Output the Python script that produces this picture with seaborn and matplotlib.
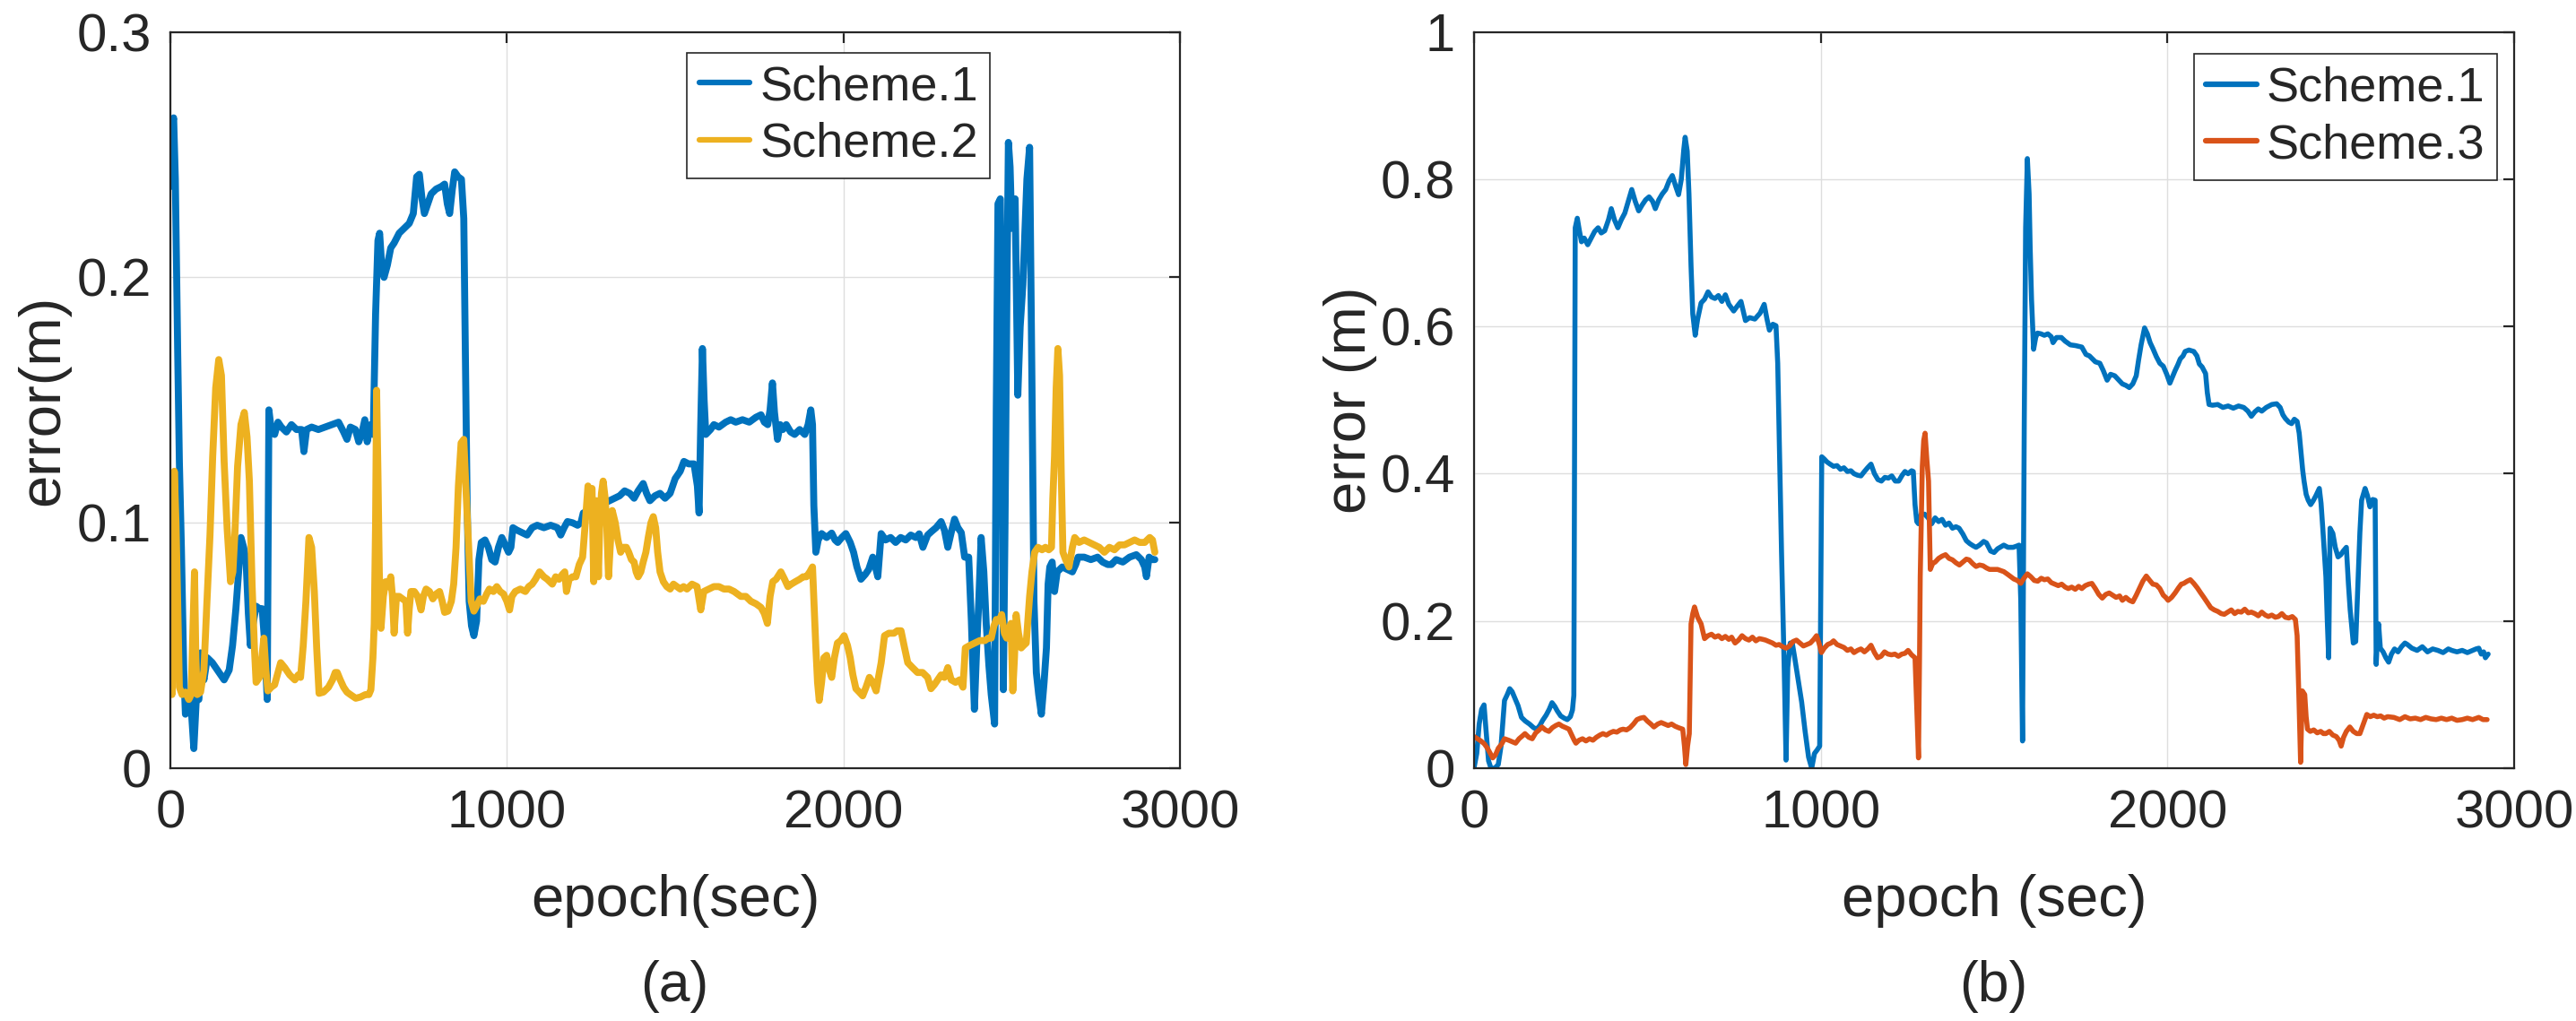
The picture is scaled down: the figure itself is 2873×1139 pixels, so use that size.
import pandas as pd
import seaborn as sns
import matplotlib.pyplot as plt

# (epoch, error) pairs
scheme1_a = [
    (0, 0.237), (5, 0.262), (10, 0.265), (15, 0.24), (22, 0.17), (27, 0.125), (33, 0.09),
    (40, 0.04), (45, 0.022), (55, 0.03), (62, 0.025), (70, 0.008), (78, 0.03), (85, 0.028),
    (90, 0.047), (100, 0.036), (110, 0.045), (125, 0.043), (140, 0.04), (160, 0.036),
    (175, 0.04), (185, 0.05), (195, 0.065), (203, 0.08), (210, 0.094), (218, 0.09),
    (225, 0.085), (232, 0.063), (238, 0.05), (245, 0.058), (255, 0.066), (265, 0.065),
    (273, 0.065), (280, 0.052), (288, 0.028), (293, 0.146), (300, 0.138), (310, 0.136),
    (320, 0.141), (330, 0.139), (345, 0.137), (360, 0.14), (375, 0.138), (390, 0.138),
    (397, 0.129), (405, 0.138), (420, 0.139), (440, 0.138), (460, 0.139), (480, 0.14),
    (500, 0.141), (515, 0.137), (525, 0.134), (535, 0.139), (550, 0.138), (560, 0.133),
    (570, 0.137), (578, 0.142), (585, 0.133), (595, 0.14), (603, 0.136), (610, 0.185),
    (617, 0.215), (622, 0.218), (628, 0.205), (635, 0.2), (645, 0.205), (655, 0.212),
    (665, 0.214), (680, 0.218), (695, 0.22), (710, 0.222), (722, 0.226), (732, 0.241),
    (740, 0.242), (748, 0.232), (755, 0.226), (765, 0.23), (775, 0.234), (790, 0.236),
    (805, 0.237), (815, 0.238), (823, 0.23), (830, 0.226), (838, 0.236), (845, 0.243),
    (855, 0.241), (865, 0.24), (872, 0.224), (877, 0.166), (882, 0.107), (888, 0.068),
    (895, 0.058), (902, 0.054), (910, 0.06), (917, 0.085), (924, 0.092), (935, 0.093),
    (945, 0.09), (955, 0.085), (965, 0.084), (975, 0.09), (985, 0.094), (995, 0.091),
    (1005, 0.088), (1012, 0.09), (1018, 0.098), (1030, 0.097), (1045, 0.096), (1060, 0.095),
    (1075, 0.098), (1090, 0.099), (1110, 0.098), (1130, 0.099), (1150, 0.098), (1160, 0.095),
    (1170, 0.098), (1180, 0.1005), (1195, 0.1), (1210, 0.099), (1220, 0.1), (1227, 0.104),
    (1245, 0.105), (1265, 0.106), (1275, 0.107), (1290, 0.108), (1305, 0.109), (1320, 0.11),
    (1335, 0.111), (1350, 0.113), (1365, 0.112), (1378, 0.11), (1390, 0.113), (1405, 0.116),
    (1415, 0.112), (1425, 0.109), (1440, 0.111), (1455, 0.112), (1470, 0.11), (1485, 0.112),
    (1500, 0.118), (1515, 0.121), (1526, 0.125), (1540, 0.124), (1556, 0.124), (1566, 0.115),
    (1571, 0.104), (1576, 0.14), (1581, 0.171), (1586, 0.15), (1591, 0.136), (1605, 0.138),
    (1615, 0.14), (1630, 0.139), (1650, 0.141), (1665, 0.142), (1680, 0.141), (1700, 0.142),
    (1720, 0.141), (1740, 0.143), (1755, 0.144), (1765, 0.141), (1775, 0.14), (1782, 0.146),
    (1789, 0.157), (1795, 0.145), (1804, 0.134), (1812, 0.14), (1820, 0.138), (1830, 0.14),
    (1843, 0.137), (1855, 0.136), (1870, 0.138), (1885, 0.136), (1895, 0.14), (1903, 0.146),
    (1908, 0.14), (1912, 0.107), (1918, 0.088), (1925, 0.093), (1935, 0.0956), (1950, 0.094),
    (1965, 0.0958), (1975, 0.093), (1983, 0.092), (1995, 0.094), (2007, 0.0956), (2020, 0.092),
    (2030, 0.088), (2040, 0.082), (2052, 0.077), (2065, 0.079), (2075, 0.081), (2087, 0.086),
    (2095, 0.082), (2102, 0.078), (2112, 0.0956), (2125, 0.093), (2140, 0.094), (2155, 0.092),
    (2170, 0.094), (2185, 0.093), (2200, 0.095), (2215, 0.094), (2225, 0.0955), (2236, 0.09),
    (2250, 0.095), (2262, 0.0965), (2275, 0.098), (2290, 0.1005), (2300, 0.097), (2310, 0.09),
    (2320, 0.096), (2330, 0.1015), (2340, 0.098), (2350, 0.096), (2360, 0.086), (2372, 0.086),
    (2380, 0.06), (2384, 0.043), (2389, 0.024), (2396, 0.05), (2402, 0.068), (2409, 0.094),
    (2417, 0.08), (2424, 0.059), (2432, 0.042), (2439, 0.03), (2449, 0.018), (2454, 0.146),
    (2459, 0.23), (2466, 0.232), (2471, 0.16), (2475, 0.032), (2480, 0.1), (2486, 0.2),
    (2490, 0.255), (2495, 0.245), (2500, 0.22), (2510, 0.232), (2518, 0.152), (2525, 0.18),
    (2533, 0.197), (2545, 0.24), (2553, 0.253), (2560, 0.156), (2566, 0.068), (2573, 0.039),
    (2580, 0.03), (2588, 0.022), (2596, 0.035), (2603, 0.049), (2608, 0.075), (2613, 0.082),
    (2620, 0.084), (2627, 0.072), (2635, 0.08), (2650, 0.082), (2665, 0.081), (2680, 0.08),
    (2690, 0.083), (2697, 0.086), (2715, 0.086), (2735, 0.085), (2755, 0.086), (2770, 0.084),
    (2785, 0.083), (2796, 0.083), (2810, 0.085), (2830, 0.084), (2850, 0.086), (2870, 0.087),
    (2885, 0.085), (2895, 0.082), (2900, 0.078), (2908, 0.086), (2918, 0.085), (2925, 0.085),
]

scheme2_a = [
    (0, 0.088), (3, 0.04), (5, 0.03), (8, 0.06), (12, 0.121), (17, 0.1), (22, 0.068),
    (27, 0.033), (35, 0.03), (45, 0.031), (55, 0.028), (62, 0.03), (68, 0.06), (72, 0.08),
    (76, 0.045), (80, 0.03), (90, 0.031), (100, 0.04), (109, 0.068), (118, 0.095),
    (126, 0.127), (135, 0.155), (144, 0.1665), (152, 0.16), (160, 0.125), (169, 0.0976),
    (179, 0.076), (186, 0.08), (192, 0.0956), (200, 0.123), (210, 0.14), (220, 0.145),
    (228, 0.135), (235, 0.117), (243, 0.075), (250, 0.049), (255, 0.035), (265, 0.037),
    (272, 0.045), (278, 0.053), (284, 0.04), (290, 0.0315), (300, 0.033), (310, 0.034),
    (318, 0.038), (328, 0.043), (340, 0.041), (355, 0.038), (370, 0.036), (380, 0.038),
    (387, 0.037), (395, 0.05), (403, 0.068), (412, 0.094), (420, 0.09), (428, 0.072),
    (435, 0.049), (442, 0.0305), (455, 0.031), (470, 0.033), (482, 0.036), (490, 0.039),
    (496, 0.039), (505, 0.036), (515, 0.033), (525, 0.031), (535, 0.03), (551, 0.0285),
    (565, 0.029), (580, 0.03), (590, 0.03), (596, 0.032), (602, 0.045), (606, 0.059),
    (610, 0.1), (613, 0.154), (617, 0.12), (621, 0.08), (626, 0.057), (633, 0.07),
    (640, 0.076), (648, 0.074), (655, 0.078), (660, 0.07), (665, 0.055), (672, 0.07),
    (680, 0.07), (690, 0.069), (700, 0.068), (705, 0.055), (710, 0.065), (715, 0.072),
    (725, 0.072), (735, 0.07), (745, 0.0645), (752, 0.07), (760, 0.073), (770, 0.072),
    (780, 0.069), (790, 0.071), (800, 0.072), (808, 0.068), (815, 0.0635), (825, 0.064),
    (835, 0.068), (842, 0.075), (849, 0.09), (856, 0.115), (864, 0.1325), (872, 0.134),
    (878, 0.115), (884, 0.0976), (890, 0.08), (894, 0.068), (902, 0.064), (910, 0.066),
    (920, 0.069), (930, 0.068), (940, 0.071), (948, 0.073), (960, 0.072), (970, 0.074),
    (980, 0.072), (990, 0.071), (1000, 0.068), (1008, 0.0645), (1015, 0.07), (1025, 0.072),
    (1040, 0.073), (1055, 0.072), (1065, 0.074), (1075, 0.075), (1085, 0.077), (1097, 0.08),
    (1110, 0.078), (1120, 0.077), (1135, 0.075), (1145, 0.078), (1155, 0.077), (1165, 0.079),
    (1172, 0.08), (1177, 0.072), (1185, 0.077), (1195, 0.078), (1205, 0.078), (1215, 0.083),
    (1225, 0.086), (1233, 0.1), (1241, 0.115), (1248, 0.11), (1253, 0.114), (1258, 0.076),
    (1262, 0.095), (1266, 0.109), (1272, 0.078), (1276, 0.1), (1281, 0.112), (1286, 0.117),
    (1292, 0.11), (1297, 0.098), (1302, 0.078), (1307, 0.09), (1313, 0.105), (1322, 0.1),
    (1330, 0.093), (1338, 0.088), (1345, 0.09), (1355, 0.09), (1362, 0.088), (1370, 0.085),
    (1378, 0.084), (1384, 0.08), (1390, 0.078), (1398, 0.08), (1405, 0.084), (1413, 0.088),
    (1420, 0.094), (1428, 0.1), (1435, 0.1025), (1442, 0.098), (1448, 0.088), (1455, 0.08),
    (1465, 0.076), (1475, 0.074), (1485, 0.073), (1495, 0.075), (1505, 0.074), (1515, 0.073),
    (1525, 0.074), (1535, 0.073), (1550, 0.075), (1565, 0.074), (1576, 0.0645), (1585, 0.072),
    (1600, 0.073), (1615, 0.074), (1630, 0.074), (1645, 0.073), (1660, 0.073), (1675, 0.072),
    (1695, 0.07), (1710, 0.07), (1725, 0.068), (1740, 0.067), (1755, 0.0655), (1765, 0.063),
    (1774, 0.059), (1782, 0.07), (1790, 0.076), (1800, 0.077), (1814, 0.08), (1825, 0.077),
    (1835, 0.074), (1845, 0.075), (1857, 0.076), (1870, 0.077), (1880, 0.078), (1890, 0.078),
    (1900, 0.08), (1908, 0.082), (1913, 0.065), (1918, 0.049), (1923, 0.035), (1928, 0.0276),
    (1935, 0.035), (1942, 0.045), (1950, 0.046), (1958, 0.04), (1965, 0.037), (1973, 0.045),
    (1982, 0.051), (1992, 0.052), (2002, 0.054), (2012, 0.05), (2020, 0.045), (2028, 0.038),
    (2037, 0.0324), (2047, 0.031), (2057, 0.0295), (2067, 0.033), (2077, 0.037), (2087, 0.035),
    (2097, 0.0315), (2104, 0.037), (2112, 0.043), (2122, 0.054), (2135, 0.055), (2150, 0.055),
    (2160, 0.056), (2171, 0.056), (2180, 0.05), (2191, 0.043), (2205, 0.041), (2220, 0.039),
    (2235, 0.039), (2250, 0.037), (2260, 0.0324), (2270, 0.034), (2280, 0.036), (2290, 0.038),
    (2300, 0.037), (2310, 0.041), (2320, 0.036), (2333, 0.035), (2345, 0.036), (2355, 0.033),
    (2362, 0.049), (2375, 0.05), (2390, 0.051), (2405, 0.052), (2420, 0.052), (2430, 0.053),
    (2439, 0.053), (2447, 0.058), (2454, 0.0606), (2463, 0.06), (2470, 0.0626), (2478, 0.055),
    (2485, 0.053), (2492, 0.057), (2498, 0.059), (2503, 0.0315), (2508, 0.045), (2513, 0.0626),
    (2520, 0.055), (2528, 0.049), (2535, 0.05), (2543, 0.051), (2553, 0.07), (2560, 0.08),
    (2568, 0.088), (2578, 0.09), (2590, 0.089), (2600, 0.09), (2610, 0.089), (2618, 0.09),
    (2622, 0.11), (2627, 0.127), (2632, 0.155), (2637, 0.171), (2642, 0.16), (2647, 0.12),
    (2652, 0.088), (2660, 0.085), (2670, 0.082), (2680, 0.09), (2687, 0.094), (2700, 0.092),
    (2715, 0.093), (2730, 0.092), (2745, 0.091), (2760, 0.09), (2775, 0.088), (2790, 0.09),
    (2805, 0.089), (2820, 0.091), (2835, 0.091), (2850, 0.092), (2865, 0.093), (2880, 0.092),
    (2895, 0.092), (2910, 0.094), (2918, 0.093), (2925, 0.088),
]

scheme1_b = [
    (0, 0.0), (8, 0.02), (15, 0.06), (22, 0.08), (29, 0.086), (35, 0.05), (42, 0.01),
    (49, 0.0), (60, 0.0), (70, 0.005), (78, 0.03), (88, 0.092), (96, 0.1), (103, 0.108),
    (110, 0.104), (118, 0.095), (127, 0.085), (137, 0.069), (148, 0.064), (160, 0.06),
    (172, 0.055), (181, 0.053), (190, 0.058), (198, 0.065), (208, 0.072), (217, 0.08),
    (225, 0.089), (233, 0.084), (240, 0.078), (250, 0.071), (260, 0.068), (269, 0.066),
    (278, 0.07), (284, 0.079), (288, 0.099), (292, 0.734), (298, 0.747), (304, 0.73),
    (310, 0.715), (318, 0.72), (328, 0.711), (338, 0.72), (348, 0.729), (358, 0.734),
    (367, 0.727), (377, 0.73), (388, 0.745), (396, 0.76), (405, 0.745), (415, 0.734),
    (425, 0.745), (435, 0.754), (445, 0.77), (455, 0.786), (465, 0.77), (475, 0.757),
    (485, 0.765), (495, 0.772), (505, 0.776), (515, 0.77), (523, 0.76), (533, 0.772),
    (543, 0.78), (553, 0.786), (563, 0.798), (572, 0.805), (582, 0.79), (590, 0.779),
    (598, 0.8), (605, 0.84), (609, 0.857), (615, 0.838), (620, 0.78), (626, 0.682),
    (631, 0.617), (638, 0.588), (645, 0.61), (655, 0.632), (665, 0.637), (675, 0.647),
    (685, 0.64), (695, 0.638), (705, 0.642), (715, 0.634), (725, 0.643), (735, 0.63),
    (749, 0.621), (760, 0.628), (770, 0.634), (783, 0.608), (795, 0.612), (810, 0.61),
    (825, 0.618), (837, 0.63), (845, 0.61), (852, 0.595), (862, 0.603), (871, 0.601),
    (876, 0.55), (880, 0.455), (887, 0.293), (895, 0.131), (900, 0.011), (905, 0.137),
    (912, 0.17), (918, 0.17), (925, 0.15), (935, 0.12), (945, 0.09), (955, 0.05),
    (965, 0.015), (974, 0.0), (982, 0.02), (990, 0.025), (997, 0.03), (1003, 0.423),
    (1010, 0.42), (1018, 0.416), (1027, 0.413), (1037, 0.41), (1047, 0.411), (1057, 0.406),
    (1067, 0.408), (1077, 0.403), (1087, 0.404), (1096, 0.4), (1106, 0.398), (1116, 0.397),
    (1126, 0.403), (1135, 0.408), (1145, 0.413), (1155, 0.4), (1165, 0.392), (1175, 0.39),
    (1185, 0.395), (1195, 0.394), (1205, 0.397), (1215, 0.39), (1225, 0.39), (1235, 0.398),
    (1243, 0.403), (1252, 0.4), (1262, 0.404), (1267, 0.403), (1272, 0.358), (1277, 0.335),
    (1282, 0.332), (1290, 0.345), (1300, 0.345), (1310, 0.34), (1320, 0.332), (1330, 0.34),
    (1340, 0.335), (1350, 0.338), (1360, 0.33), (1370, 0.333), (1380, 0.326), (1390, 0.328),
    (1399, 0.326), (1410, 0.318), (1420, 0.309), (1430, 0.305), (1440, 0.302), (1448, 0.3),
    (1458, 0.303), (1470, 0.308), (1478, 0.306), (1490, 0.295), (1500, 0.293), (1510, 0.298),
    (1528, 0.303), (1540, 0.3), (1555, 0.3), (1567, 0.302), (1572, 0.303), (1577, 0.228),
    (1582, 0.037), (1587, 0.468), (1591, 0.734), (1596, 0.828), (1601, 0.78), (1604, 0.708),
    (1608, 0.637), (1614, 0.569), (1620, 0.585), (1625, 0.591), (1635, 0.59), (1645, 0.588),
    (1655, 0.59), (1665, 0.586), (1670, 0.578), (1680, 0.585), (1694, 0.585), (1705, 0.58),
    (1720, 0.575), (1735, 0.574), (1753, 0.572), (1765, 0.562), (1775, 0.56), (1792, 0.552),
    (1805, 0.55), (1815, 0.54), (1826, 0.527), (1836, 0.535), (1848, 0.533), (1860, 0.527),
    (1870, 0.522), (1880, 0.52), (1890, 0.517), (1900, 0.522), (1910, 0.533), (1917, 0.555),
    (1924, 0.575), (1934, 0.598), (1942, 0.59), (1950, 0.578), (1958, 0.57), (1968, 0.559),
    (1978, 0.55), (1988, 0.546), (1998, 0.535), (2007, 0.523), (2015, 0.532), (2022, 0.54),
    (2030, 0.548), (2037, 0.556), (2045, 0.56), (2051, 0.566), (2062, 0.568), (2076, 0.566),
    (2085, 0.56), (2092, 0.549), (2100, 0.545), (2110, 0.536), (2115, 0.51), (2120, 0.494),
    (2130, 0.493), (2145, 0.494), (2160, 0.49), (2175, 0.492), (2190, 0.489), (2205, 0.492),
    (2220, 0.49), (2232, 0.485), (2242, 0.478), (2252, 0.484), (2262, 0.488), (2272, 0.485),
    (2285, 0.49), (2301, 0.494), (2315, 0.495), (2325, 0.49), (2333, 0.48), (2340, 0.475),
    (2350, 0.47), (2358, 0.468), (2366, 0.474), (2374, 0.471), (2380, 0.455), (2385, 0.43),
    (2390, 0.405), (2394, 0.39), (2400, 0.372), (2406, 0.364), (2413, 0.358), (2420, 0.363),
    (2428, 0.37), (2438, 0.38), (2443, 0.36), (2448, 0.326), (2453, 0.29), (2457, 0.26),
    (2461, 0.2), (2465, 0.15), (2469, 0.326), (2477, 0.319), (2484, 0.3), (2492, 0.287),
    (2500, 0.29), (2507, 0.295), (2516, 0.3), (2522, 0.25), (2527, 0.215), (2536, 0.17),
    (2543, 0.172), (2550, 0.26), (2555, 0.32), (2560, 0.364), (2570, 0.38), (2577, 0.37),
    (2584, 0.355), (2592, 0.365), (2599, 0.364), (2602, 0.141), (2606, 0.18), (2609, 0.196),
    (2614, 0.163), (2622, 0.158), (2630, 0.15), (2638, 0.144), (2646, 0.155), (2655, 0.162),
    (2665, 0.158), (2675, 0.165), (2685, 0.17), (2692, 0.168), (2705, 0.163), (2720, 0.16),
    (2735, 0.165), (2750, 0.158), (2765, 0.162), (2780, 0.16), (2795, 0.157), (2810, 0.162),
    (2820, 0.16), (2835, 0.158), (2850, 0.16), (2865, 0.157), (2880, 0.16), (2890, 0.162),
    (2898, 0.163), (2905, 0.155), (2912, 0.158), (2917, 0.15), (2925, 0.155),
]

scheme3_b = [
    (0, 0.043), (10, 0.04), (20, 0.037), (30, 0.033), (39, 0.027), (47, 0.02), (54, 0.014),
    (62, 0.018), (70, 0.027), (80, 0.033), (88, 0.04), (100, 0.038), (110, 0.036),
    (120, 0.034), (130, 0.04), (140, 0.044), (147, 0.047), (158, 0.042), (168, 0.04),
    (178, 0.048), (188, 0.052), (196, 0.056), (206, 0.052), (216, 0.05), (226, 0.055),
    (236, 0.058), (245, 0.06), (255, 0.057), (265, 0.055), (274, 0.053), (282, 0.045),
    (289, 0.038), (294, 0.034), (303, 0.038), (313, 0.04), (323, 0.037), (333, 0.04),
    (343, 0.038), (353, 0.042), (363, 0.045), (372, 0.047), (382, 0.045), (392, 0.048),
    (402, 0.05), (412, 0.049), (422, 0.052), (430, 0.053), (440, 0.052), (450, 0.055),
    (460, 0.06), (470, 0.066), (480, 0.068), (490, 0.069), (500, 0.064), (510, 0.06),
    (519, 0.056), (530, 0.06), (540, 0.062), (550, 0.06), (560, 0.058), (570, 0.06),
    (580, 0.057), (590, 0.055), (602, 0.053), (607, 0.03), (611, 0.005), (616, 0.03),
    (621, 0.047), (626, 0.196), (631, 0.21), (636, 0.219), (645, 0.205), (655, 0.196),
    (665, 0.176), (675, 0.18), (685, 0.182), (695, 0.178), (705, 0.18), (715, 0.176),
    (725, 0.179), (735, 0.175), (743, 0.178), (753, 0.17), (763, 0.174), (773, 0.18),
    (783, 0.176), (793, 0.174), (803, 0.178), (813, 0.173), (823, 0.176), (833, 0.175),
    (841, 0.174), (851, 0.172), (861, 0.17), (871, 0.167), (880, 0.168), (890, 0.165),
    (900, 0.163), (910, 0.166), (920, 0.172), (930, 0.174), (940, 0.17), (950, 0.166),
    (960, 0.168), (970, 0.17), (980, 0.175), (988, 0.18), (995, 0.17), (1002, 0.157),
    (1010, 0.163), (1020, 0.168), (1030, 0.17), (1037, 0.173), (1047, 0.168), (1057, 0.166),
    (1067, 0.164), (1077, 0.16), (1087, 0.162), (1096, 0.157), (1106, 0.16), (1116, 0.162),
    (1126, 0.158), (1136, 0.162), (1145, 0.167), (1155, 0.157), (1164, 0.15), (1174, 0.152),
    (1184, 0.158), (1194, 0.155), (1204, 0.154), (1214, 0.155), (1224, 0.152), (1234, 0.155),
    (1243, 0.156), (1252, 0.16), (1262, 0.154), (1272, 0.15), (1277, 0.08), (1282, 0.014),
    (1285, 0.15), (1287, 0.26), (1293, 0.41), (1297, 0.445), (1301, 0.455), (1306, 0.42),
    (1311, 0.39), (1316, 0.27), (1323, 0.278), (1330, 0.28), (1340, 0.285), (1350, 0.288),
    (1360, 0.29), (1370, 0.285), (1380, 0.283), (1390, 0.279), (1400, 0.276), (1410, 0.28),
    (1420, 0.284), (1428, 0.283), (1438, 0.278), (1448, 0.274), (1458, 0.276), (1468, 0.275),
    (1478, 0.272), (1487, 0.27), (1499, 0.27), (1510, 0.27), (1528, 0.267), (1540, 0.263),
    (1557, 0.257), (1567, 0.255), (1577, 0.251), (1586, 0.258), (1596, 0.264), (1606, 0.26),
    (1616, 0.255), (1626, 0.254), (1636, 0.258), (1645, 0.256), (1655, 0.257), (1665, 0.252),
    (1675, 0.25), (1685, 0.248), (1695, 0.25), (1705, 0.246), (1714, 0.244), (1724, 0.246),
    (1734, 0.243), (1744, 0.247), (1753, 0.244), (1763, 0.248), (1773, 0.25), (1782, 0.251),
    (1792, 0.244), (1802, 0.236), (1812, 0.231), (1822, 0.236), (1832, 0.238), (1842, 0.235),
    (1852, 0.232), (1862, 0.234), (1870, 0.228), (1880, 0.232), (1890, 0.228), (1900, 0.226),
    (1910, 0.235), (1919, 0.244), (1929, 0.254), (1939, 0.261), (1949, 0.255), (1958, 0.25),
    (1968, 0.249), (1978, 0.244), (1988, 0.235), (1995, 0.232), (2002, 0.228), (2012, 0.232),
    (2022, 0.238), (2032, 0.245), (2040, 0.25), (2047, 0.251), (2057, 0.254), (2066, 0.256),
    (2076, 0.251), (2086, 0.245), (2096, 0.238), (2105, 0.232), (2115, 0.225), (2125, 0.218),
    (2135, 0.215), (2145, 0.213), (2155, 0.21), (2164, 0.209), (2174, 0.212), (2184, 0.215),
    (2194, 0.21), (2203, 0.213), (2213, 0.212), (2223, 0.216), (2233, 0.211), (2242, 0.212),
    (2252, 0.21), (2262, 0.207), (2272, 0.212), (2282, 0.208), (2291, 0.206), (2301, 0.208),
    (2311, 0.205), (2320, 0.206), (2330, 0.21), (2340, 0.205), (2350, 0.204), (2360, 0.206),
    (2369, 0.202), (2374, 0.18), (2379, 0.099), (2384, 0.008), (2389, 0.105), (2396, 0.1),
    (2400, 0.07), (2404, 0.053), (2412, 0.05), (2422, 0.052), (2432, 0.048), (2442, 0.05),
    (2450, 0.047), (2457, 0.047), (2467, 0.05), (2477, 0.045), (2487, 0.043), (2495, 0.038),
    (2501, 0.03), (2508, 0.042), (2516, 0.05), (2526, 0.056), (2536, 0.05), (2546, 0.047),
    (2555, 0.047), (2565, 0.06), (2575, 0.073), (2585, 0.07), (2595, 0.072), (2605, 0.07),
    (2615, 0.071), (2625, 0.068), (2635, 0.07), (2653, 0.069), (2670, 0.066), (2685, 0.07),
    (2700, 0.067), (2715, 0.068), (2730, 0.066), (2745, 0.069), (2760, 0.067), (2775, 0.066),
    (2790, 0.068), (2805, 0.066), (2820, 0.068), (2835, 0.065), (2850, 0.066), (2865, 0.068),
    (2880, 0.066), (2898, 0.069), (2910, 0.066), (2922, 0.066),
]

x_ticks = [0, 1000, 2000, 3000]
y_ticks_a = [0, 0.1, 0.2, 0.3]
y_labels_a = ["0", "0.1", "0.2", "0.3"]
y_ticks_b = [0, 0.2, 0.4, 0.6, 0.8, 1.0]
y_labels_b = ["0", "0.2", "0.4", "0.6", "0.8", "1"]

COLORS = {"Scheme.1": "#0072BD", "Scheme.2": "#EDB120", "Scheme.3": "#D95319"}
TEXT = "#262626"


def to_frame(series):
    """Stack (epoch, error) lists into one long table with a scheme column."""
    parts = []
    for name, pts in series.items():
        part = pd.DataFrame(pts, columns=["epoch", "error"])
        part["scheme"] = name
        parts.append(part)
    return pd.concat(parts, ignore_index=True)


def style_axes(ax, yticks, ylabels, ymax, ylabel, xlabel, ylabel_x):
    ax.set_xlim(0, 3000)
    ax.set_ylim(0, ymax)
    ax.set_xticks(x_ticks)
    ax.set_xticklabels([str(t) for t in x_ticks])
    ax.set_yticks(yticks)
    ax.set_yticklabels(ylabels)
    ax.grid(True, color="#dedede", linewidth=1.0)
    ax.tick_params(axis="both", direction="in", top=True, right=True, length=8.6,
                   width=1.6, colors=TEXT, labelsize=43)
    ax.tick_params(axis="x", pad=17)
    ax.tick_params(axis="y", pad=15)
    for sp in ax.spines.values():
        sp.set_color(TEXT)
        sp.set_linewidth(1.6)
    ax.set_xlabel(xlabel, fontsize=47, color=TEXT, va="baseline")
    ax.xaxis.set_label_coords(0.5, -0.201)
    ax.set_ylabel(ylabel, fontsize=47, color=TEXT, va="baseline")
    ax.yaxis.set_label_coords(ylabel_x, 0.5)


def style_legend(ax, anchor):
    handles, labels = ax.get_legend_handles_labels()
    leg = ax.legend(handles, labels, loc="upper left", bbox_to_anchor=anchor,
                    borderaxespad=0, fontsize=39, frameon=True, fancybox=False,
                    framealpha=1, edgecolor="#262626", handlelength=1.05,
                    handletextpad=0.2, borderpad=0.25, labelspacing=0.25)
    leg.get_frame().set_linewidth(1.2)
    for h in leg.get_lines():
        h.set_linewidth(4.5)


sns.set_style("white")
plt.rcParams["font.family"] = ["Liberation Sans", "DejaVu Sans"]

fig = plt.figure(figsize=(28.73, 11.39), dpi=100)
ax_a = fig.add_axes([0.0661, 0.2476, 0.3920, 0.7211])
ax_b = fig.add_axes([0.5722, 0.2476, 0.4038, 0.7211])

df_a = to_frame({"Scheme.1": scheme1_a, "Scheme.2": scheme2_a})
sns.lineplot(data=df_a, x="epoch", y="error", hue="scheme", palette=COLORS,
             estimator=None, sort=False, linewidth=5.6, ax=ax_a)
style_axes(ax_a, y_ticks_a, y_labels_a, 0.3, "error(m)", "epoch(sec)", -0.111)
style_legend(ax_a, (0.5115, 0.972))

df_b = to_frame({"Scheme.1": scheme1_b, "Scheme.3": scheme3_b})
sns.lineplot(data=df_b, x="epoch", y="error", hue="scheme", palette=COLORS,
             estimator=None, sort=False, linewidth=4.0, ax=ax_b)
style_axes(ax_b, y_ticks_b, y_labels_b, 1.0, "error (m)", "epoch (sec)", -0.104)
style_legend(ax_b, (0.692, 0.970))

fig.text(0.262, 0.0193, "(a)", fontsize=45, color=TEXT, ha="center", va="baseline")
fig.text(0.774, 0.0193, "(b)", fontsize=45, color=TEXT, ha="center", va="baseline")

fig.savefig("out.png", dpi=100)
plt.close(fig)
